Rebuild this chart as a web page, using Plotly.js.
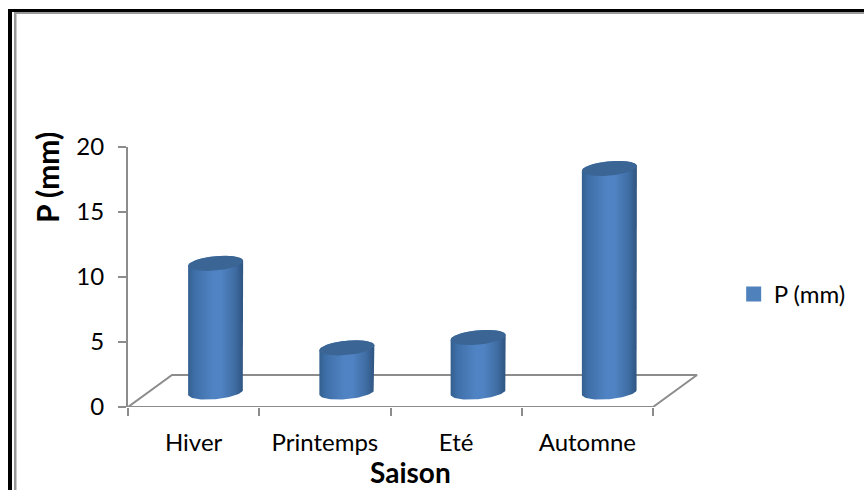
<!DOCTYPE html>
<html>
<head>
<meta charset="utf-8">
<script src="https://cdn.plot.ly/plotly-3.0.1.min.js"></script>
<style>html,body{margin:0;padding:0;background:#fff}</style>
</head>
<body>
<div id="chart" style="width:864px;height:490px"></div>
<script>
const categories = ["Hiver", "Printemps", "Eté", "Automne"];
const precipitation = [9.9, 3.4, 4.2, 17.2];
const seriesName = "P (mm)";
const xTitle = "Saison";
const yTitle = "P (mm)";
const yTicks = [0, 5, 10, 15, 20];

// Oblique floor depth and cylinder proportions, in axis units
const depthX = 44 / 131.25, depthY = 32 / 13;
const radiusX = 27.5 / 131.25, radiusY = 0.55, tilt = 0.19;
const baseY = 1.15;
const FONT = "Lato, Carlito, sans-serif";
const AXIS = "#8c8c8c";

// Plot box in page pixels, used to place the frame and the titles
const box = {l: 128, t: 147, w: 570, h: 260};
const px = x => (x - box.l) / box.w;
const py = y => (box.t + box.h - y) / box.h;

function rim(cx, cy, from, to, steps) {
  const xs = [], ys = [];
  for (let i = 0; i <= steps; i++) {
    const t = from + (to - from) * i / steps;
    xs.push(cx + radiusX * Math.cos(t));
    ys.push(cy + radiusY * Math.sin(t) + tilt * Math.cos(t));
  }
  return [xs, ys];
}

const traces = [];

// Floor outline of the oblique box
traces.push({
  type: "scatter", mode: "lines", showlegend: false, hoverinfo: "skip",
  x: [0, depthX, 4 + depthX, 4, 0],
  y: [0, depthY, depthY, 0, 0],
  line: {color: AXIS, width: 2}
});

categories.forEach((name, i) => {
  const cx = i + 0.5 + depthX / 2;
  const top = baseY + precipitation[i];
  // Side wall: top rim's back half, then the bottom rim's front half
  const back = rim(cx, top, Math.PI, 0, 40);
  const front = rim(cx, baseY, 0, -Math.PI, 40);
  traces.push({
    type: "scatter", mode: "lines", showlegend: false, name,
    x: back[0].concat(front[0]), y: back[1].concat(front[1]),
    fill: "toself", line: {width: 0},
    fillgradient: {
      type: "horizontal",
      colorscale: [[0, "#33608f"], [0.12, "#3f6fa8"], [0.45, "#5083c3"], [0.6, "#5083c3"], [0.85, "#3f6da3"], [1, "#2f5480"]]
    },
    hoverinfo: "skip"
  });
  // Top cap
  const cap = rim(cx, top, 0, 2 * Math.PI, 60);
  traces.push({
    type: "scatter", mode: "lines", showlegend: false, name,
    x: cap[0], y: cap[1], fill: "toself",
    fillcolor: "#3a6595", line: {width: 0}, hoverinfo: "skip"
  });
});

// Legend entry for the series
traces.push({
  type: "scatter", mode: "markers", name: seriesName,
  x: [null], y: [null],
  marker: {symbol: "square", size: 15, color: "#4f81bd"}
});

// Black page frame with its thin grey inner rule, open at the right and bottom
function bar(x0, y0, x1, y1, color) {
  return {type: "rect", xref: "paper", yref: "paper", layer: "above",
    x0: px(x0), x1: px(x1), y0: py(y0), y1: py(y1), line: {width: 0}, fillcolor: color};
}

const layout = {
  width: 864, height: 490,
  paper_bgcolor: "#fff", plot_bgcolor: "rgba(0,0,0,0)",
  margin: {l: box.l, r: 864 - box.l - box.w, t: box.t, b: 490 - box.t - box.h, pad: 0},
  showlegend: true,
  legend: {x: 1.0626, xanchor: "left", y: 0.433, yanchor: "middle", font: {family: FONT, size: 24, color: "#000"}, bgcolor: "rgba(0,0,0,0)", itemclick: false, itemdoubleclick: false},
  font: {family: FONT, color: "#000"},
  xaxis: {
    range: [0, box.w / 131.25], fixedrange: true, showgrid: false, zeroline: false, showline: false,
    tickmode: "array", tickvals: categories.map((_, i) => i + 0.5), ticktext: categories,
    ticks: "", ticklabelstandoff: 19, tickfont: {family: FONT, size: 24, color: "#000"},
    minor: {tickmode: "array", tickvals: [0, 1, 2, 3, 4], ticks: "outside", ticklen: 8, tickwidth: 2, tickcolor: AXIS, showgrid: false}
  },
  yaxis: {
    range: [0, 20], fixedrange: true, showgrid: false, zeroline: false,
    showline: true, linecolor: AXIS, linewidth: 2,
    tickmode: "array", tickvals: yTicks, ticks: "outside", ticklen: 8, tickwidth: 2, tickcolor: AXIS,
    ticklabelstandoff: 9, tickfont: {family: FONT, size: 24, color: "#000"}
  },
  annotations: [
    {text: yTitle, xref: "paper", yref: "paper", x: px(47), y: py(178), textangle: -90, showarrow: false,
     xanchor: "center", yanchor: "middle", font: {family: FONT, size: 30, color: "#000", weight: "bold"}},
    {text: xTitle, xref: "paper", yref: "paper", x: px(410), y: py(472), showarrow: false,
     xanchor: "center", yanchor: "middle", font: {family: FONT, size: 28, color: "#000", weight: "bold"}}
  ],
  shapes: [
    bar(8, 9, 12, 490, "#000"),
    bar(8, 9, 864, 12, "#000"),
    bar(14, 12, 16.5, 490, "#999"),
    bar(14, 12, 864, 14, "#999")
  ]
};

Plotly.newPlot("chart", traces, layout, {displayModeBar: false, staticPlot: true});
</script>
</body>
</html>
